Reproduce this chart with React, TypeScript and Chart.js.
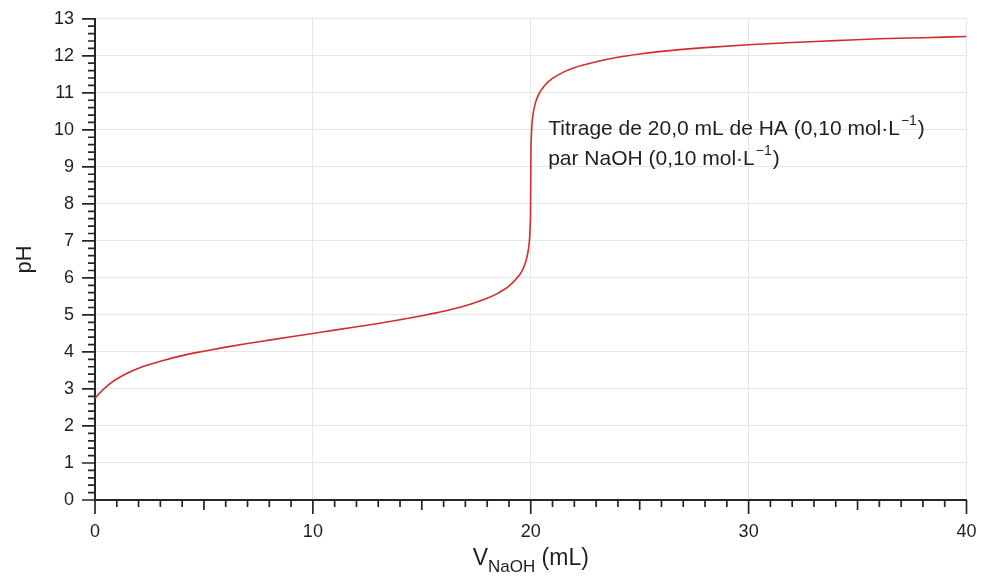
import { useEffect, useRef } from 'react';
import { Chart, registerables } from 'chart.js';

Chart.register(...registerables);

// Titration of a weak acid HA by NaOH: added volume (mL) and measured pH
const VOLUME_ML = [
  0, 0.25, 0.5, 0.75, 1, 1.5, 2, 2.5, 3, 4, 5, 6, 7, 8, 9, 10, 11, 12, 13, 14, 15,
  16, 17, 18, 18.5, 19, 19.5, 19.6, 19.7, 19.8, 19.9, 19.95, 19.98, 19.99, 20,
  20.01, 20.02, 20.05, 20.1, 20.2, 20.3, 20.4, 20.5, 20.7, 21, 21.5, 22, 23, 24,
  25, 26, 28, 30, 32, 34, 36, 38, 40,
];
const PH = [
  2.75, 2.91, 3.05, 3.17, 3.27, 3.43, 3.56, 3.66, 3.75, 3.9, 4.02, 4.13, 4.23, 4.32,
  4.41, 4.5, 4.59, 4.68, 4.77, 4.87, 4.98, 5.1, 5.25, 5.45, 5.59, 5.78, 6.09, 6.19,
  6.32, 6.5, 6.8, 7.1, 7.5, 7.8, 8.6, 9.45, 9.7, 10.1, 10.4, 10.7, 10.87, 11.0,
  11.09, 11.24, 11.39, 11.56, 11.68, 11.84, 11.96, 12.05, 12.12, 12.22, 12.3,
  12.36, 12.41, 12.46, 12.49, 12.52,
];

const X_MIN = 0;
const X_MAX = 40;
const X_LABEL_STEP = 10;
const Y_MIN = 0;
const Y_MAX = 13;
const Y_LABEL_STEP = 1;

const X_TITLE = 'V';
const X_TITLE_SUB = 'NaOH';
const X_TITLE_UNIT = ' (mL)';
const Y_TITLE = 'pH';

// Each note line: [text, superscript, trailing text]
const NOTE_LINES: [string, string, string][] = [
  ['Titrage de 20,0 mL de HA (0,10 mol·L', '−1', ')'],
  ['par NaOH (0,10 mol·L', '−1', ')'],
];
const NOTE_AT_VOLUME = 20.8;
const NOTE_AT_PH = 9.87;

const FONT = '"Liberation Sans", Arial, Helvetica, sans-serif';
const TEXT_COLOR = '#1f1f1f';
const AXIS_COLOR = '#262626';
const GRID_COLOR = '#e6e6e6';
const CURVE_COLOR = '#d42b2b';

const decorPlugin = {
  id: 'titrationDecor',
  afterDraw(chart: any) {
    const { ctx, chartArea } = chart;
    const xs = chart.scales.x;
    const ys = chart.scales.y;
    ctx.save();

    // minor / medium / major tick marks on both axes
    ctx.strokeStyle = AXIS_COLOR;
    ctx.lineWidth = 1.7;
    ctx.beginPath();
    for (let v = X_MIN; v <= X_MAX; v += 1) {
      const px = xs.getPixelForValue(v);
      const len = v % 10 === 0 ? 14 : v % 5 === 0 ? 10 : 7;
      ctx.moveTo(px, chartArea.bottom);
      ctx.lineTo(px, chartArea.bottom + len);
    }
    for (let i = 0; i <= (Y_MAX - Y_MIN) * 5; i++) {
      const py = ys.getPixelForValue(Y_MIN + i * 0.2);
      const len = i % 5 === 0 ? 13 : 7;
      ctx.moveTo(chartArea.left, py);
      ctx.lineTo(chartArea.left - len, py);
    }
    ctx.stroke();

    ctx.fillStyle = TEXT_COLOR;
    ctx.textBaseline = 'alphabetic';
    ctx.textAlign = 'left';

    // x-axis title with subscript
    const mainFont = `23px ${FONT}`;
    const subFont = `17px ${FONT}`;
    ctx.font = mainFont;
    const wV = ctx.measureText(X_TITLE).width;
    const wUnit = ctx.measureText(X_TITLE_UNIT).width;
    ctx.font = subFont;
    const wSub = ctx.measureText(X_TITLE_SUB).width;
    const total = wV + wSub + wUnit;
    let tx = (chartArea.left + chartArea.right) / 2 - total / 2;
    const baseY = 565;
    ctx.font = mainFont;
    ctx.fillText(X_TITLE, tx, baseY);
    tx += wV;
    ctx.font = subFont;
    ctx.fillText(X_TITLE_SUB, tx, baseY + 7);
    tx += wSub;
    ctx.font = mainFont;
    ctx.fillText(X_TITLE_UNIT, tx, baseY);

    // annotation with superscripts
    const noteFont = `21px ${FONT}`;
    const supFont = `14px ${FONT}`;
    const nx = xs.getPixelForValue(NOTE_AT_VOLUME);
    let ny = ys.getPixelForValue(NOTE_AT_PH);
    for (const [body, sup, tail] of NOTE_LINES) {
      let cx = nx;
      ctx.font = noteFont;
      ctx.fillText(body, cx, ny);
      cx += ctx.measureText(body).width + 1;
      ctx.font = supFont;
      ctx.fillText(sup, cx, ny - 10);
      cx += ctx.measureText(sup).width + 1;
      ctx.font = noteFont;
      ctx.fillText(tail, cx, ny);
      ny += 30;
    }
    ctx.restore();
  },
};

export default function App() {
  const canvasRef = useRef<HTMLCanvasElement | null>(null);

  useEffect(() => {
    document.body.style.margin = '0';
    const canvas = canvasRef.current;
    if (!canvas) return;
    const points = VOLUME_ML.map((v, i) => ({ x: v, y: PH[i] }));

    const chart = new Chart(canvas, {
      type: 'line',
      data: {
        datasets: [
          {
            data: points,
            borderColor: CURVE_COLOR,
            borderWidth: 1.6,
            pointRadius: 0,
            fill: false,
            cubicInterpolationMode: 'monotone',
          },
        ],
      },
      plugins: [decorPlugin],
      options: {
        animation: false,
        responsive: true,
        maintainAspectRatio: false,
        layout: { padding: { top: 17, right: 17.5, left: 0, bottom: 0 } },
        plugins: {
          legend: { display: false },
          tooltip: { enabled: false },
        },
        scales: {
          x: {
            type: 'linear',
            min: X_MIN,
            max: X_MAX,
            afterFit: (scale: any) => {
              scale.height = 77;
            },
            ticks: {
              stepSize: X_LABEL_STEP,
              color: TEXT_COLOR,
              font: { family: FONT, size: 18 },
              padding: 7,
              maxRotation: 0,
            },
            grid: {
              color: GRID_COLOR,
              lineWidth: 1,
              tickLength: 14,
              tickColor: 'rgba(0,0,0,0)',
            },
            border: { display: true, color: AXIS_COLOR, width: 2 },
          },
          y: {
            type: 'linear',
            min: Y_MIN,
            max: Y_MAX,
            afterFit: (scale: any) => {
              scale.width = 95;
            },
            ticks: {
              stepSize: Y_LABEL_STEP,
              color: TEXT_COLOR,
              font: { family: FONT, size: 18 },
              padding: 8,
            },
            grid: {
              color: GRID_COLOR,
              lineWidth: 1,
              tickLength: 13,
              tickColor: 'rgba(0,0,0,0)',
            },
            border: { display: true, color: AXIS_COLOR, width: 2 },
            title: {
              display: true,
              text: Y_TITLE,
              color: TEXT_COLOR,
              font: { family: FONT, size: 22 },
              padding: { top: 12, bottom: 0 },
            },
          },
        },
      },
    });
    return () => chart.destroy();
  }, []);

  return (
    <div style={{ position: 'relative', width: '984px', height: '577px' }}>
      <canvas ref={canvasRef} />
    </div>
  );
}
